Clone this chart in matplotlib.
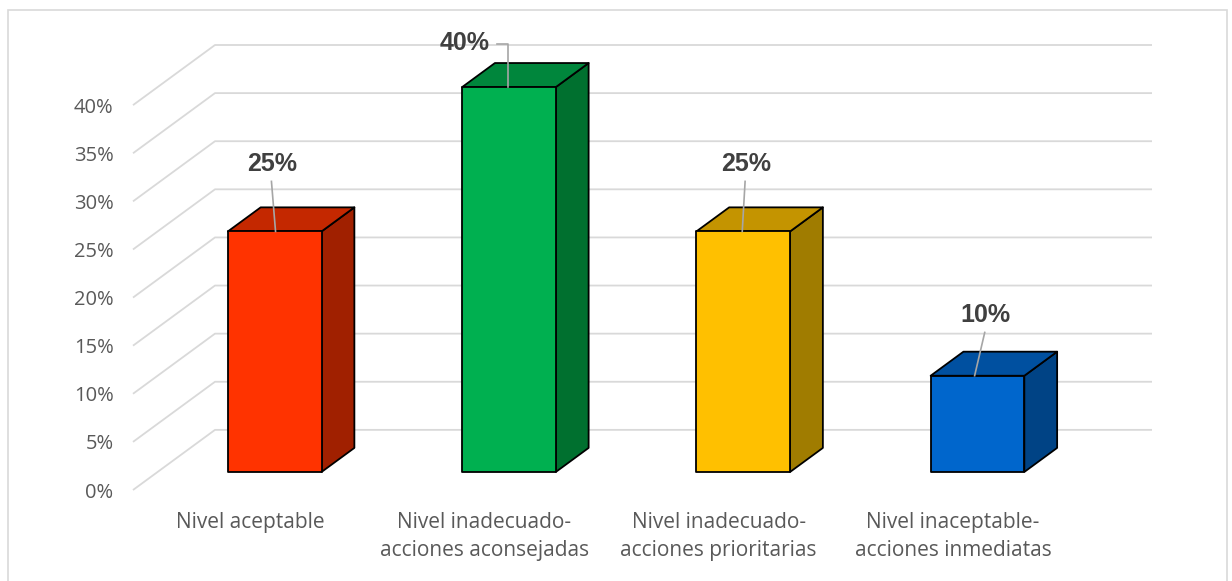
import matplotlib.pyplot as plt
from matplotlib.patches import Polygon, Rectangle

# data
categories = ["Nivel aceptable", "Nivel inadecuado-\nacciones aconsejadas",
              "Nivel inadecuado-\nacciones prioritarias", "Nivel inaceptable-\nacciones inmediatas"]
values = [25, 40, 25, 10]
yticks = [0, 5, 10, 15, 20, 25, 30, 35, 40]

front_colors = ["#FF3300", "#00B050", "#FFC000", "#0066CC"]
top_colors = ["#C42800", "#00863C", "#C49400", "#0050A0"]
side_colors = ["#A02000", "#00702F", "#A07C00", "#004385"]

# oblique depth: full floor depth in data units
DX, DY = 0.35, 6.25
D0, D1 = 0.3, 0.7      # bar front / back depth
HALF = 0.2             # half bar width
GRID = "#D9D9D9"
TXT = "#595959"
LEAD = "#A6A6A6"

# label offsets (dx in categories, dy in %) relative to bar top front centre
label_off = [(-0.01, 7.0), (-0.188, 4.6), (0.012, 7.0), (0.035, 6.3)]


def proj(x, v, d):
    return x + DX * d, v + DY * d


fig = plt.figure(figsize=(12.32, 5.81), dpi=100)
ax = fig.add_axes([133 / 1232, 91 / 581, 1019 / 1232, 445 / 581])
ax.set_xlim(-0.5, 3.5 + DX)
ax.set_ylim(0, 40 + DY)
for s in ax.spines.values():
    s.set_visible(False)

# back wall + side wall gridlines
for v in yticks:
    x0, y0 = proj(-0.5, v, 0)
    x1, y1 = proj(-0.5, v, 1)
    x2, y2 = proj(3.5, v, 1)
    ax.plot([x0, x1, x2], [y0, y1, y2], color=GRID, lw=1.3, zorder=1,
            solid_capstyle="butt", clip_on=False)

# bars
for i, v in enumerate(values):
    xl, xr = i - HALF, i + HALF
    front = [proj(xl, 0, D0), proj(xr, 0, D0), proj(xr, v, D0), proj(xl, v, D0)]
    top = [proj(xl, v, D0), proj(xr, v, D0), proj(xr, v, D1), proj(xl, v, D1)]
    side = [proj(xr, 0, D0), proj(xr, 0, D1), proj(xr, v, D1), proj(xr, v, D0)]
    for pts, c in [(side, side_colors[i]), (top, top_colors[i]), (front, front_colors[i])]:
        ax.add_patch(Polygon(pts, closed=True, facecolor=c, edgecolor="black",
                             lw=1.3, joinstyle="round", zorder=3, clip_on=False))

    # data label + leader line
    bx, by = proj(i, v, D0)
    dx, dy = label_off[i]
    lx, ly = bx + dx, by + dy
    ax.text(lx, ly, f"{v}%", ha="center", va="center", fontsize=18,
            fontweight="bold", color="#404040", family="Liberation Sans", zorder=5)
    if i == 1:
        ax.plot([lx + 0.137, bx - 0.004, bx - 0.004], [ly - 0.1, ly - 0.1, by],
                color=LEAD, lw=1.2, zorder=4, clip_on=False)
    else:
        ax.plot([lx - 0.004, bx - 0.35 * dx], [ly - 1.8, by], color=LEAD, lw=1.2,
                zorder=4, clip_on=False)

# axes labels
ax.set_yticks(yticks)
ax.set_yticklabels([f"{t}%" for t in yticks], fontsize=14.5, color=TXT, family="Open Sans")
ax.tick_params(axis="y", length=0, pad=14)
ax.set_xticks(range(len(categories)))
ax.set_xticklabels(categories, fontsize=15, color=TXT, family="Open Sans", linespacing=1.4)
ax.tick_params(axis="x", length=0, pad=16)

# chart frame
fig.add_artist(Rectangle((8 / 1232, -0.02), 1219 / 1232, (571 / 581) + 0.02,
                         transform=fig.transFigure, fill=False, edgecolor=GRID, lw=1.2))

fig.savefig("out.png", dpi=100)
